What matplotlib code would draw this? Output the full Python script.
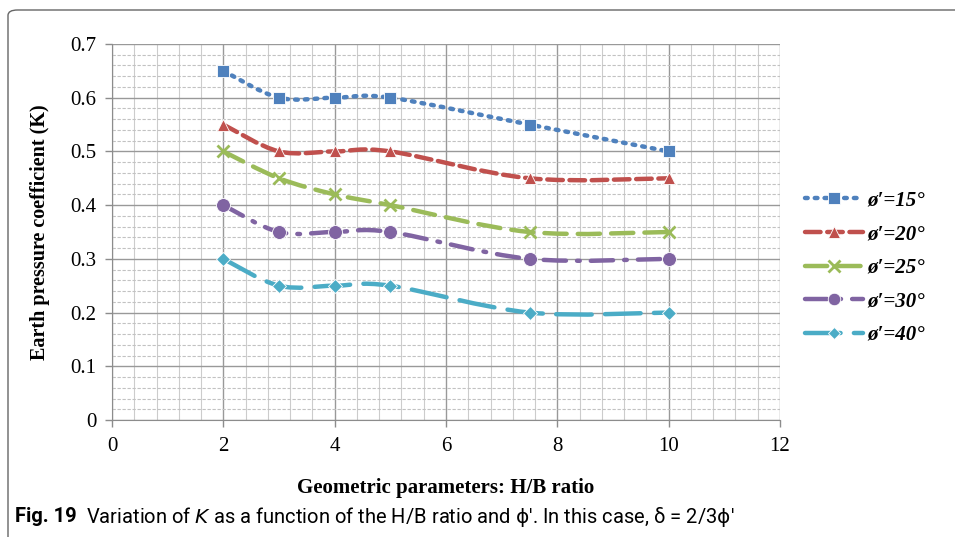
import matplotlib.pyplot as plt
from matplotlib.path import Path
from matplotlib.patches import PathPatch, FancyBboxPatch
from matplotlib.lines import Line2D
from matplotlib.ticker import MultipleLocator

# data
hb_ratio = [2, 3, 4, 5, 7.5, 10]
k_15 = [0.65, 0.60, 0.60, 0.60, 0.55, 0.50]
k_20 = [0.55, 0.50, 0.50, 0.50, 0.45, 0.45]
k_25 = [0.50, 0.45, 0.42, 0.40, 0.35, 0.35]
k_30 = [0.40, 0.35, 0.35, 0.35, 0.30, 0.30]
k_40 = [0.30, 0.25, 0.25, 0.25, 0.20, 0.20]
labels = ["ø′=15°", "ø′=20°", "ø′=25°", "ø′=30°", "ø′=40°"]

colors = ['#4F81BD', '#C0504D', '#9BBB59', '#8064A2', '#4BACC6']
markers = ['s', '^', 'x', 'o', 'D']
msizes = [9, 9, 9, 10, 7]
dashes = [(0, (0.6, 1.6)), (0, (3.5, 1.5)), (0, (5, 2.5)), (0, (5, 2.5, 0.6, 2.5)), (0, (8, 3))]


def smooth_path(xs, ys):
    # excel-style smoothed line: catmull-rom turned into cubic bezier segments
    pts = list(zip(xs, ys))
    verts = [pts[0]]
    codes = [Path.MOVETO]
    n = len(pts)
    for i in range(n - 1):
        p0 = pts[i - 1] if i > 0 else pts[i]
        p1 = pts[i]
        p2 = pts[i + 1]
        p3 = pts[i + 2] if i + 2 < n else pts[i + 1]
        c1 = (p1[0] + (p2[0] - p0[0]) / 6, p1[1] + (p2[1] - p0[1]) / 6)
        c2 = (p2[0] - (p3[0] - p1[0]) / 6, p2[1] - (p3[1] - p1[1]) / 6)
        verts += [c1, c2, p2]
        codes += [Path.CURVE4] * 3
    return Path(verts, codes)


fig = plt.figure(figsize=(9.55, 5.37), dpi=100)
ax = fig.add_axes([112 / 955, 1 - 420 / 537, 668 / 955, 376 / 537])

series = [k_15, k_20, k_25, k_30, k_40]
handles = []
for i, ys in enumerate(series):
    patch = PathPatch(smooth_path(hb_ratio, ys), facecolor='none', edgecolor=colors[i],
                      lw=3.2, linestyle=dashes[i], capstyle='round', zorder=3)
    ax.add_patch(patch)
    if markers[i] == 'x':
        ax.plot(hb_ratio, ys, linestyle='none', marker='x', ms=msizes[i], mew=2,
                color=colors[i], zorder=4)
    else:
        ax.plot(hb_ratio, ys, linestyle='none', marker=markers[i], ms=msizes[i],
                mfc=colors[i], mec='white', mew=0.6, zorder=4)
    handles.append(Line2D([], [], color=colors[i], lw=3.2, linestyle=dashes[i],
                          dash_capstyle='round', marker=markers[i], ms=msizes[i] - 1,
                          mfc=colors[i], mec='white' if markers[i] != 'x' else colors[i],
                          mew=0.6 if markers[i] != 'x' else 2))

ax.set_xlim(0, 12)
ax.set_ylim(0, 0.7)
ax.xaxis.set_major_locator(MultipleLocator(2))
ax.xaxis.set_minor_locator(MultipleLocator(0.4))
ax.yaxis.set_major_locator(MultipleLocator(0.1))
ax.yaxis.set_minor_locator(MultipleLocator(0.02))
ax.grid(True, which='major', color='#999999', lw=1.0, zorder=0)
ax.grid(True, which='minor', axis='x', color='#cccccc', lw=0.8)
ax.grid(True, which='minor', axis='y', color='#c2c2c2', lw=0.8, linestyle=(0, (3, 1.5)))
ax.set_axisbelow(True)
ax.tick_params(which='minor', length=0)
ax.tick_params(which='major', direction='out', length=5, color='#8c8c8c', width=1)
for s in ['top', 'right']:
    ax.spines[s].set_visible(False)
for s in ['left', 'bottom']:
    ax.spines[s].set_color('#8c8c8c')

ax.set_yticks([0, 0.1, 0.2, 0.3, 0.4, 0.5, 0.6, 0.7])
ax.set_yticklabels(['0', '0.1', '0.2', '0.3', '0.4', '0.5', '0.6', '0.7'])
for lab in ax.get_xticklabels() + ax.get_yticklabels():
    lab.set_fontfamily('Liberation Serif')
    lab.set_fontsize(15)
ax.tick_params(axis='x', pad=7)
ax.tick_params(axis='y', pad=6)

fig.text(40 / 955, 1 - 232 / 537, 'Earth pressure coefficient (K)', rotation=90,
         ha='center', va='center', fontfamily='Liberation Serif', fontweight='bold', fontsize=14.5)
fig.text(446 / 955, 1 - 488 / 537, 'Geometric parameters: H/B ratio',
         ha='center', va='center', fontfamily='Liberation Serif', fontweight='bold', fontsize=15)

leg = fig.legend(handles, labels, loc='upper left', bbox_to_anchor=(786 / 955, 1 - 172 / 537),
                 frameon=False, handlelength=2.8, handletextpad=0.2, labelspacing=0.65,
                 prop={'family': 'Liberation Serif', 'weight': 'bold', 'style': 'italic', 'size': 15})

# caption and frame
fig_lab = fig.text(15 / 955, 1 - 517 / 537, 'Fig. 19', fontfamily=['Roboto', 'DejaVu Sans'],
                   fontweight='bold', fontsize=14.5, va='center', ha='left')
ax.annotate('Variation of $\\it{K}$ as a function of the H/B ratio and $\\mathrm{\\phi}$′. '
            'In this case, δ = 2/3$\\mathrm{\\phi}$′',
            xy=(1, 0.5), xycoords=fig_lab, xytext=(7, 0), textcoords='offset points',
            fontfamily=['Roboto', 'DejaVu Sans'], fontsize=14.5, va='center', ha='left',
            annotation_clip=False)
frame = FancyBboxPatch((8 / 955, -0.05), 1.1, 1 - 10 / 537 + 0.05,
                       boxstyle='round,pad=0,rounding_size=0.01', transform=fig.transFigure,
                       facecolor='none', edgecolor='#666666', lw=1.0, clip_on=False)
fig.patches.append(frame)

fig.savefig('out.png', dpi=100)
